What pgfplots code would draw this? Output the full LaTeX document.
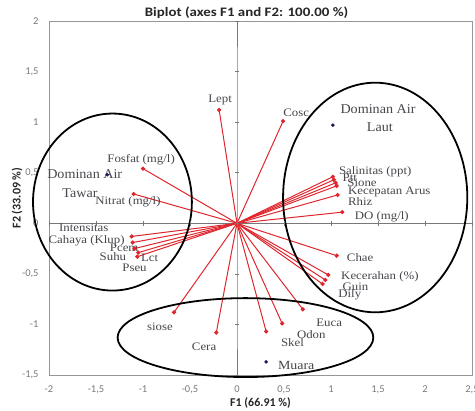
\documentclass[border=0pt]{standalone}
\usepackage{pgfplots}
\pgfplotsset{compat=1.18}
\usepackage{fontspec}
\setmainfont{Liberation Serif}
\newfontfamily\calib{Carlito}
\definecolor{vecred}{RGB}{222,38,44}
\definecolor{labgray}{RGB}{70,70,76}
\definecolor{boxgray}{RGB}{150,150,150}
\definecolor{linegray}{RGB}{120,120,120}
\definecolor{navyd}{RGB}{25,25,85}
\tikzset{
  vec/.style={vecred, line width=1pt, mark=*, mark size=1.6pt, mark indices={2}, mark options={fill=vecred, draw=vecred}},
  lab/.style={font=\fontsize{11.5}{12}\selectfont, text=labgray, inner sep=0pt, xscale=1.12},
  big/.style={font=\fontsize{13.5}{14}\selectfont, text=labgray, inner sep=0pt, xscale=1.05},
}
\begin{document}
\begin{tikzpicture}
\begin{axis}[name=ax,
  width=423bp, height=354bp, scale only axis,
  xmin=-2, xmax=2.5, ymin=-1.5, ymax=2,
  xtick={-2,-1.5,-1,-0.5,0,0.5,1,1.5,2,2.5},
  ytick={-1.5,-1,-0.5,0,0.5,1,1.5,2},
  major tick length=0,
  /pgf/number format/assume math mode=true,
  /pgf/number format/use comma,
  tick label style={font=\calib\fontsize{10.5}{11}\selectfont, text=linegray},
  xticklabel style={yshift=-7bp},
  yticklabel style={xshift=-7bp},
  axis line style={boxgray, line width=0.8pt},
  clip=false,
  title={Biplot (axes F1 and F2: 100.00 \%)},
  title style={font=\calib\bfseries\fontsize{13}{14}\selectfont, text=black!85, xscale=1.15, at={(axis description cs:0.467,1)}, anchor=base, yshift=-1bp},
  xlabel={F1 (66.91 \%)}, ylabel={F2 (33.09 \%)},
  label style={font=\calib\bfseries\fontsize{12}{13}\selectfont, text=black!85},
  xlabel style={at={(axis description cs:0.5,-0.079)}, anchor=center},
  ylabel style={at={(axis description cs:-0.0757,0.5)}, anchor=center},
]
% centre lines with tick marks
\addplot[linegray, line width=0.6pt, mark=|, mark size=2.5pt] coordinates {(-2,0)(-1.5,0)(-1,0)(-0.5,0)(0,0)(0.5,0)(1,0)(1.5,0)(2,0)(2.5,0)};
\addplot[linegray, line width=0.6pt, mark=-, mark size=2.5pt] coordinates {(0,-1.5)(0,-1)(0,-0.5)(0,0)(0,0.5)(0,1)(0,1.5)(0,2)};
% variable vectors
\addplot[vec] coordinates {(0,0)(-0.19,1.12)}; % Lept
\addplot[vec] coordinates {(0,0)(0.49,1.01)};  % Cosc
\addplot[vec] coordinates {(0,0)(-1.00,0.54)}; % Fosfat
\addplot[vec] coordinates {(0,0)(-1.10,0.29)}; % Nitrat
\addplot[vec] coordinates {(0,0)(-1.12,-0.13)}; % Intensitas
\addplot[vec] coordinates {(0,0)(-1.11,-0.19)}; % Pcem
\addplot[vec] coordinates {(0,0)(-1.09,-0.25)}; % Suhu
\addplot[vec] coordinates {(0,0)(-1.05,-0.29)}; % Lct
\addplot[vec] coordinates {(0,0)(-1.06,-0.33)}; % Pseu
\addplot[vec] coordinates {(0,0)(1.02,0.46)};  % Salinitas
\addplot[vec] coordinates {(0,0)(1.03,0.43)};  % Ptt
\addplot[vec] coordinates {(0,0)(1.05,0.40)};  % Sione
\addplot[vec] coordinates {(0,0)(1.06,0.37)};  % Kecepatan
\addplot[vec] coordinates {(0,0)(1.07,0.28)};  % Rhiz
\addplot[vec] coordinates {(0,0)(1.12,0.11)};  % DO
\addplot[vec] coordinates {(0,0)(1.06,-0.32)}; % Chae
\addplot[vec] coordinates {(0,0)(0.97,-0.51)}; % Kecerahan
\addplot[vec] coordinates {(0,0)(0.94,-0.56)}; % Guin
\addplot[vec] coordinates {(0,0)(0.91,-0.60)}; % Dily
\addplot[vec] coordinates {(0,0)(-0.67,-0.88)}; % siose
\addplot[vec] coordinates {(0,0)(-0.22,-1.08)}; % Cera
\addplot[vec] coordinates {(0,0)(0.31,-1.07)};  % Skel
\addplot[vec] coordinates {(0,0)(0.48,-0.99)};  % Odon
\addplot[vec] coordinates {(0,0)(0.70,-0.85)};  % Euca
% observations
\addplot[only marks, mark=*, mark size=1.6pt, navyd] coordinates {(1.02,0.97)(-1.38,0.48)(0.31,-1.37)};
% ellipses
\draw[black, line width=1.8pt] (axis cs:-1.325,0.21) ellipse [x radius=0.845, y radius=0.875];
\draw[black, line width=1.8pt] (axis cs:1.47,0.255) ellipse [x radius=0.98, y radius=1.135];
\draw[black, line width=1.8pt] (axis cs:0.09,-1.13) ellipse [x radius=1.36, y radius=0.39];
% labels
\node[lab] at (axis cs:-0.18,1.22) {Lept};
\node[lab] at (axis cs:0.63,1.09) {Cosc};
\node[lab] at (axis cs:-1.02,0.63) {Fosfat (mg/l)};
\node[big] at (axis cs:-1.62,0.49) {Dominan Air};
\node[big] at (axis cs:-1.67,0.30) {Tawar};
\node[lab] at (axis cs:-1.16,0.21) {Nitrat (mg/l)};
\node[lab] at (axis cs:-1.63,-0.04) {Intensitas};
\node[lab] at (axis cs:-1.60,-0.17) {Cahaya (Klup)};
\node[lab] at (axis cs:-1.20,-0.24) {Pcem};
\node[lab] at (axis cs:-1.32,-0.33) {Suhu};
\node[lab] at (axis cs:-0.93,-0.34) {Lct};
\node[lab] at (axis cs:-1.09,-0.44) {Pseu};
\node[big] at (axis cs:1.50,1.13) {Dominan Air};
\node[big] at (axis cs:1.52,0.95) {Laut};
\node[lab] at (axis cs:1.47,0.51) {Salinitas (ppt)};
\node[lab] at (axis cs:1.20,0.45) {Ptt};
\node[lab] at (axis cs:1.33,0.40) {Sione};
\node[lab] at (axis cs:1.62,0.31) {Kecepatan Arus};
\node[lab] at (axis cs:1.31,0.22) {Rhiz};
\node[lab] at (axis cs:1.54,0.06) {DO (mg/l)};
\node[lab] at (axis cs:1.31,-0.34) {Chae};
\node[lab] at (axis cs:1.52,-0.53) {Kecerahan (\%)};
\node[lab] at (axis cs:1.26,-0.63) {Guin};
\node[lab] at (axis cs:1.20,-0.71) {Dily};
\node[lab] at (axis cs:-0.82,-1.02) {siose};
\node[lab] at (axis cs:-0.35,-1.22) {Cera};
\node[lab] at (axis cs:0.59,-1.18) {Skel};
\node[lab] at (axis cs:0.79,-1.10) {Odon};
\node[lab] at (axis cs:0.98,-0.98) {Euca};
\node[lab, font=\fontsize{12.5}{13}\selectfont] at (axis cs:0.63,-1.41) {Muara};
\end{axis}
\pgfresetboundingbox
\path ([xshift=-49bp,yshift=-35bp]ax.south west) rectangle ([xshift=3bp,yshift=21bp]ax.north east);
\end{tikzpicture}
\end{document}
